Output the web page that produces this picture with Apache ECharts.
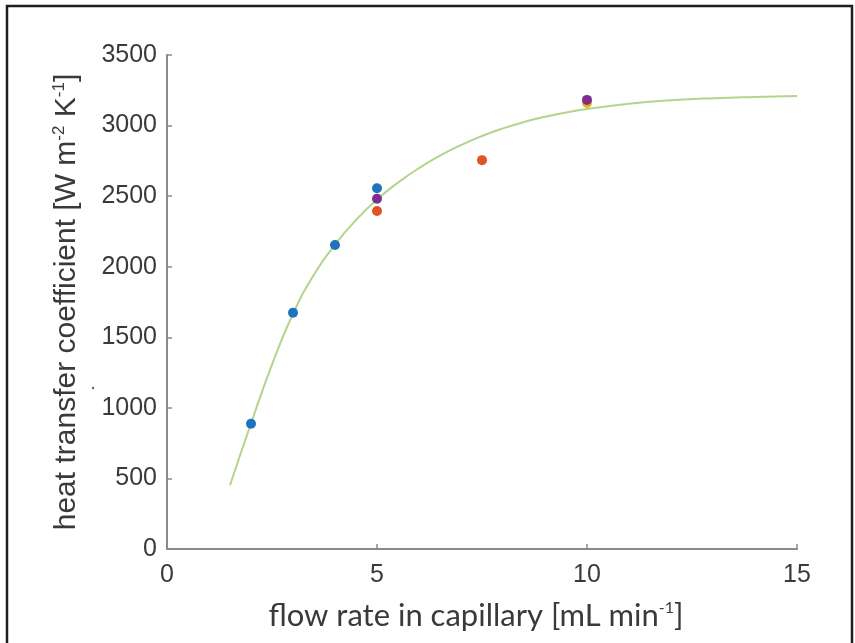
<!DOCTYPE html>
<html>
<head>
<meta charset="utf-8">
<script src="https://cdn.jsdelivr.net/npm/echarts@6/dist/echarts.min.js"></script>
<style>
html, body { margin: 0; padding: 0; background: #fff; }
#chart { width: 855px; height: 643px; }
</style>
</head>
<body>
<div id="chart"></div>
<script>
// measured points, [flow rate, coefficient]
var blueData = [[2, 888], [3, 1674], [4, 2154], [5, 2556]];
var orangeData = [[5, 2395], [7.5, 2755]];
var yellowData = [[10, 3160]];
var purpleData = [[5, 2481], [10, 3182]];

// fitted curve
var fitX = [1.5, 2, 2.5, 3, 3.5, 4, 4.5, 5, 5.5, 6, 6.5, 7, 7.5, 8, 8.5, 9, 9.5, 10, 11, 12, 13, 14, 15];
var fitY = [452, 889, 1307, 1667, 1945, 2157, 2331, 2476, 2596, 2699, 2787, 2862, 2926, 2980, 3025, 3062, 3093, 3118, 3155, 3179, 3194, 3203, 3209];

var xTicks = [0, 5, 10, 15];
var yTicks = [0, 500, 1000, 1500, 2000, 2500, 3000, 3500];

var fitData = [];
for (var i = 0; i < fitX.length; i++) {
    fitData.push([fitX[i], fitY[i]]);
}

var axisGray = '#8a8a8a';
var textCol = '#3a3a3a';

function dots(data, color) {
    return {
        type: 'scatter',
        data: data,
        symbolSize: 10,
        itemStyle: { color: color, opacity: 1 },
        z: 3
    };
}

var myChart = echarts.init(document.getElementById('chart'));
myChart.setOption({
    animation: false,
    grid: { left: 167, right: 58, top: 55, bottom: 94 },
    xAxis: {
        type: 'value',
        min: 0,
        max: 15,
        interval: 5,
        name: 'flow rate in capillary [mL min{s|-1}]',
        nameLocation: 'middle',
        nameGap: 51,
        nameTextStyle: {
            fontFamily: 'Lato',
            fontSize: 31,
            color: textCol,
            padding: [0, 12, 0, 0],
            rich: {
                s: { fontFamily: 'Lato', fontSize: 16, color: textCol, padding: [0, 0, 15, 0] }
            }
        },
        axisLine: { lineStyle: { color: axisGray, width: 2 } },
        axisTick: { inside: true, length: 5, lineStyle: { color: axisGray, width: 1.5 } },
        axisLabel: {
            fontFamily: 'Liberation Sans',
            fontSize: 25,
            color: textCol,
            margin: 14,
            formatter: function (v) { return xTicks.indexOf(v) >= 0 ? String(v) : ''; }
        },
        splitLine: { show: false }
    },
    yAxis: {
        type: 'value',
        min: 0,
        max: 3500,
        interval: 500,
        name: 'heat transfer coefficient [W m{s|-2} K{s|-1}]',
        nameLocation: 'middle',
        nameGap: 84,
        nameRotate: 90,
        nameTextStyle: {
            fontFamily: 'Liberation Sans',
            fontSize: 30,
            color: textCol,
            rich: {
                s: { fontFamily: 'Liberation Sans', fontSize: 17, color: textCol, padding: [0, 0, 15, 0] }
            }
        },
        axisLine: { show: true, lineStyle: { color: axisGray, width: 2 } },
        axisTick: { show: true, inside: true, length: 5, lineStyle: { color: axisGray, width: 1.5 } },
        axisLabel: {
            fontFamily: 'Liberation Sans',
            fontSize: 25,
            color: textCol,
            margin: 10,
            formatter: function (v) { return yTicks.indexOf(v) >= 0 ? String(v) : ''; }
        },
        splitLine: { show: false }
    },
    graphic: [
        {
            type: 'rect',
            shape: { x: 7, y: 6, width: 845, height: 660 },
            style: { fill: 'none', stroke: '#1e1e1e', lineWidth: 2.5 },
            silent: true
        },
        {
            type: 'circle',
            shape: { cx: 93, cy: 388, r: 1.2 },
            style: { fill: '#666' },
            silent: true
        }
    ],
    series: [
        {
            type: 'line',
            data: fitData,
            smooth: 0.5,
            showSymbol: false,
            lineStyle: { color: '#b2d48b', width: 2 },
            z: 2
        },
        dots(blueData, '#1f72bd'),
        dots(orangeData, '#de5423'),
        dots(yellowData, '#eeb020'),
        dots(purpleData, '#7e2f8e')
    ]
});
</script>
</body>
</html>
